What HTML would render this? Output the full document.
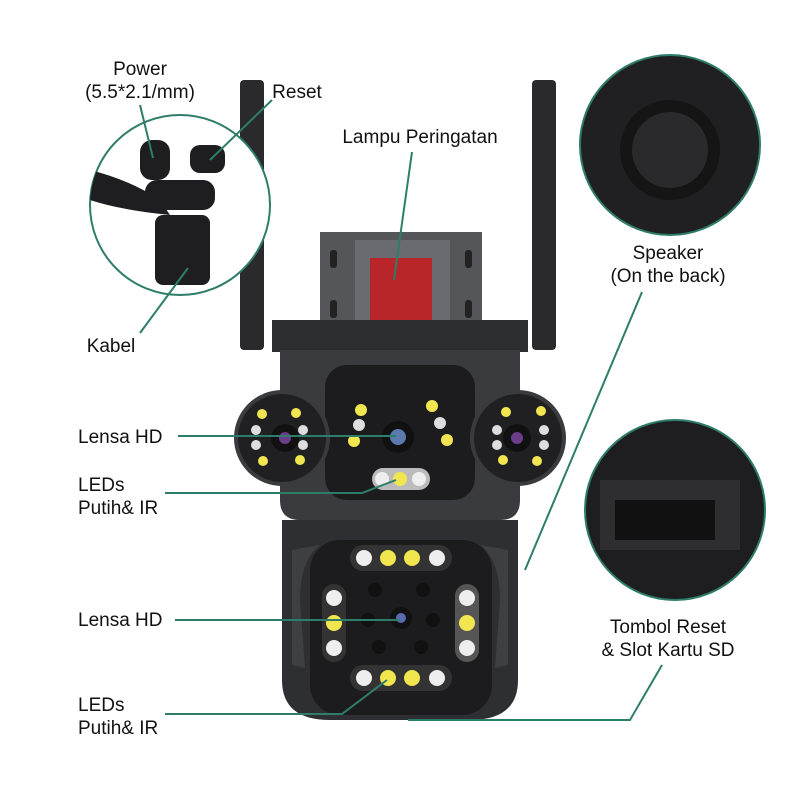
<!DOCTYPE html>
<html><head><style>
body{margin:0;background:#fff}
svg text{font-family:"Liberation Sans",sans-serif;font-size:19px;fill:#111}
</style></head><body>
<svg width="800" height="800" viewBox="0 0 800 800" xmlns="http://www.w3.org/2000/svg">
<rect width="800" height="800" fill="#fff"/>
<!-- antennas -->
<rect x="240" y="80" width="24" height="270" rx="4" fill="#2a2a2c"/>
<rect x="532" y="80" width="24" height="270" rx="4" fill="#2a2a2c"/>
<!-- bracket -->
<rect x="320" y="232" width="162" height="100" fill="#55565a"/>
<rect x="355" y="240" width="95" height="90" fill="#6a6b70"/>
<rect x="370" y="258" width="62" height="66" fill="#b8262a"/>
<rect x="330" y="250" width="7" height="18" rx="3" fill="#222"/>
<rect x="465" y="250" width="7" height="18" rx="3" fill="#222"/>
<rect x="330" y="300" width="7" height="18" rx="3" fill="#222"/>
<rect x="465" y="300" width="7" height="18" rx="3" fill="#222"/>
<!-- top plate -->
<rect x="272" y="320" width="256" height="32" fill="#2c2d30"/>
<!-- upper body -->
<path d="M280 350 H520 V500 Q520 520 500 520 H300 Q280 520 280 500 Z" fill="#3a3b3f"/>
<rect x="325" y="365" width="150" height="135" rx="22" fill="#1c1c1e"/>
<circle cx="282" cy="438" r="46" fill="#202022" stroke="#3a3b3f" stroke-width="4"/>
<circle cx="518" cy="438" r="46" fill="#202022" stroke="#3a3b3f" stroke-width="4"/>
<circle cx="285" cy="438" r="14" fill="#111"/><circle cx="285" cy="438" r="6" fill="#6b3d8a"/>
<circle cx="517" cy="438" r="14" fill="#111"/><circle cx="517" cy="438" r="6" fill="#6b3d8a"/>
<circle cx="398" cy="437" r="16" fill="#111"/><circle cx="398" cy="437" r="8" fill="#5a7ab0"/>
<rect x="372" y="468" width="58" height="22" rx="11" fill="#bbb"/>
<circle cx="382" cy="479" r="7" fill="#eee"/><circle cx="400" cy="479" r="7" fill="#f2e650"/><circle cx="419" cy="479" r="7" fill="#eee"/>
<g fill="#f2e650"><circle cx="361" cy="410" r="6"/><circle cx="354" cy="441" r="6"/><circle cx="432" cy="406" r="6"/><circle cx="447" cy="440" r="6"/>
<circle cx="262" cy="414" r="5"/><circle cx="296" cy="413" r="5"/><circle cx="263" cy="461" r="5"/><circle cx="300" cy="460" r="5"/>
<circle cx="506" cy="412" r="5"/><circle cx="541" cy="411" r="5"/><circle cx="503" cy="460" r="5"/><circle cx="537" cy="461" r="5"/></g>
<g fill="#ddd"><circle cx="359" cy="425" r="6"/><circle cx="440" cy="423" r="6"/><circle cx="256" cy="430" r="5"/><circle cx="256" cy="445" r="5"/><circle cx="303" cy="430" r="5"/><circle cx="303" cy="445" r="5"/>
<circle cx="497" cy="430" r="5"/><circle cx="497" cy="445" r="5"/><circle cx="544" cy="430" r="5"/><circle cx="544" cy="445" r="5"/></g>
<!-- lower body -->
<path d="M282 520 H518 V680 Q518 720 470 720 H330 Q282 720 282 680 Z" fill="#2e2f33"/>
<path d="M300 600 Q300 560 320 545 L292 550 L292 665 L305 668 Z" fill="#3e3f43"/>
<path d="M500 600 Q500 560 480 545 L508 550 L508 665 L495 668 Z" fill="#3e3f43"/>
<rect x="310" y="540" width="182" height="175" rx="30" fill="#1c1c1e"/>
<rect x="350" y="545" width="102" height="26" rx="13" fill="#333"/>
<rect x="350" y="665" width="102" height="26" rx="13" fill="#333"/>
<rect x="322" y="584" width="24" height="78" rx="12" fill="#333"/>
<rect x="455" y="584" width="24" height="78" rx="12" fill="#555"/>
<g fill="#eee"><circle cx="364" cy="558" r="8"/><circle cx="437" cy="558" r="8"/><circle cx="364" cy="678" r="8"/><circle cx="437" cy="678" r="8"/>
<circle cx="334" cy="598" r="8"/><circle cx="334" cy="648" r="8"/><circle cx="467" cy="598" r="8"/><circle cx="467" cy="648" r="8"/></g>
<g fill="#f2e650"><circle cx="388" cy="558" r="8"/><circle cx="412" cy="558" r="8"/><circle cx="388" cy="678" r="8"/><circle cx="412" cy="678" r="8"/><circle cx="334" cy="623" r="8"/><circle cx="467" cy="623" r="8"/></g>
<g fill="#111"><circle cx="401" cy="618" r="11"/><circle cx="375" cy="590" r="7"/><circle cx="423" cy="590" r="7"/><circle cx="368" cy="620" r="7"/><circle cx="433" cy="620" r="7"/><circle cx="379" cy="647" r="7"/><circle cx="421" cy="647" r="7"/></g>
<circle cx="401" cy="618" r="5" fill="#5a6ab0"/>
<!-- circles -->
<defs><clipPath id="c1"><circle cx="180" cy="205" r="90"/></clipPath></defs>
<circle cx="180" cy="205" r="90" fill="#fff" stroke="#2e7d6b" stroke-width="2"/>
<g clip-path="url(#c1)" fill="#1e1e20">
<path d="M90 170 Q130 180 160 200 L170 215 Q120 210 90 200 Z"/>
<rect x="140" y="140" width="30" height="40" rx="12"/>
<rect x="190" y="145" width="35" height="28" rx="10"/>
<rect x="145" y="180" width="70" height="30" rx="12"/>
<rect x="155" y="215" width="55" height="70" rx="8"/>
</g>
<circle cx="670" cy="145" r="90" fill="#202022" stroke="#2e7d6b" stroke-width="2"/>
<circle cx="670" cy="150" r="50" fill="#151516"/>
<circle cx="670" cy="150" r="38" fill="#2a2a2c"/>
<circle cx="675" cy="510" r="90" fill="#1e1e20" stroke="#2e7d6b" stroke-width="2"/>
<rect x="600" y="480" width="140" height="70" fill="#2e2e30"/>
<rect x="615" y="500" width="100" height="40" fill="#111"/>
<!-- lines -->
<g stroke="#2e7d6b" stroke-width="2" fill="none">
<path d="M140 105 L153 158"/>
<path d="M272 100 L210 160"/>
<path d="M412 152 L394 280"/>
<path d="M140 333 L188 268"/>
<path d="M178 436 L396 436"/>
<path d="M165 493 L362 493 L396 480"/>
<path d="M175 620 L400 620"/>
<path d="M165 714 L342 714 L387 680"/>
<path d="M642 292 L525 570"/>
<path d="M662 665 L630 720 L408 720"/>
</g>
<!-- labels -->
<text x="140" y="75" text-anchor="middle">Power</text>
<text x="140" y="98" text-anchor="middle">(5.5*2.1/mm)</text>
<text x="297" y="98" text-anchor="middle">Reset</text>
<text x="420" y="143" text-anchor="middle">Lampu Peringatan</text>
<text x="111" y="352" text-anchor="middle">Kabel</text>
<text x="668" y="259" text-anchor="middle">Speaker</text>
<text x="668" y="282" text-anchor="middle">(On the back)</text>
<text x="78" y="443">Lensa HD</text>
<text x="78" y="491">LEDs</text>
<text x="78" y="514">Putih&amp; IR</text>
<text x="78" y="626">Lensa HD</text>
<text x="668" y="633" text-anchor="middle">Tombol Reset</text>
<text x="668" y="656" text-anchor="middle">&amp; Slot Kartu SD</text>
<text x="78" y="711">LEDs</text>
<text x="78" y="734">Putih&amp; IR</text>
</svg>
</body></html>
